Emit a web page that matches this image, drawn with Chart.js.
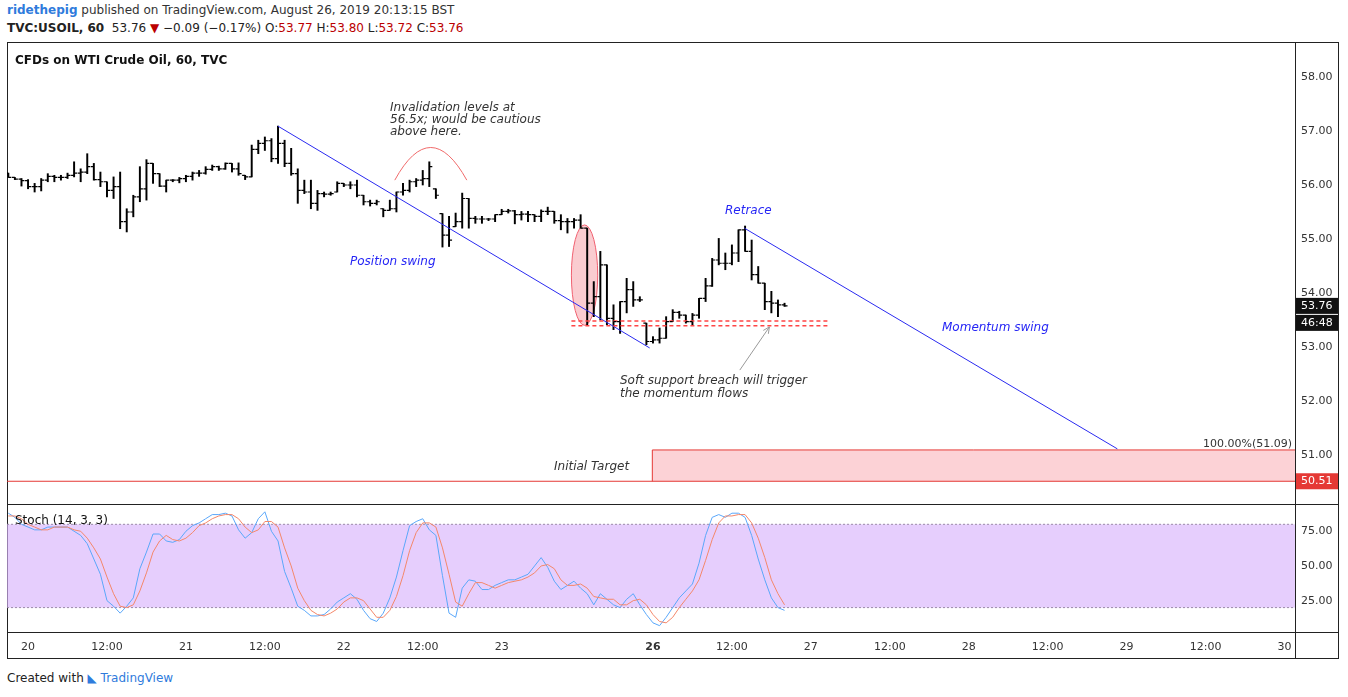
<!DOCTYPE html>
<html lang="en">
<head>
<meta charset="UTF-8">
<title>USOIL 60</title>
<style>
  body { margin: 0; background: #fff; font-family: 'DejaVu Sans', sans-serif; width: 1348px; height: 697px; overflow: hidden; position: relative; }
  #hdr1 { position: absolute; left: 7px; top: 3px; font-size: 12px; color: #333; }
  #hdr1 b { color: #2f7bdc; }
  #hdr2 { position: absolute; left: 7px; top: 21px; font-size: 12px; color: #222; }
  #hdr2 .r { color: #b00; }
  #frame { position: absolute; left: 7px; top: 42px; width: 1332px; height: 617px; border: 1px solid #222; box-sizing: border-box; }
  #c1 { position: absolute; left: 7px; top: 42px; }
  #c2 { position: absolute; left: 7px; top: 505px; }
  #foot { position: absolute; left: 7px; top: 671px; font-size: 12px; color: #222; }
  #foot span { color: #2f7bdc; }
</style>
<script src="https://cdn.jsdelivr.net/npm/chart.js@4.4.0/dist/chart.umd.min.js"></script>
</head>
<body>
<div id="hdr1"><b>ridethepig</b> published on TradingView.com, August 26, 2019 20:13:15 BST</div>
<div id="hdr2"><b>TVC:USOIL, 60</b>&nbsp; 53.76 <span class="r">▼</span> −0.09 (−0.17%) O:<span class="r">53.77</span> H:<span class="r">53.80</span> L:<span class="r">53.72</span> C:<span class="r">53.76</span></div>
<div id="frame"></div>
<canvas id="c1" width="1332" height="463"></canvas>
<canvas id="c2" width="1332" height="154"></canvas>
<div id="foot">Created with <span>◣ TradingView</span></div>

<script>
// hourly bars, first bar is index -3 (Aug 20 is 0, one day = 24 bars)
var firstIdx = -3;
var highs = [56.22,56.14,56.12,56.10,56.03,56.12,56.21,56.18,56.18,56.22,
  56.43,56.30,56.58,56.40,56.24,56.06,56.15,56.24,55.56,55.81,
  56.34,56.47,56.40,56.21,56.09,56.10,56.14,56.18,56.24,56.27,
  56.34,56.37,56.35,56.41,56.40,56.41,56.18,56.74,56.83,56.89,
  56.86,57.09,56.83,56.68,56.30,56.09,56.09,55.90,55.87,55.87,
  56.06,56.03,56.06,56.09,55.81,55.72,55.72,55.56,55.72,55.87,
  56.03,56.09,56.12,56.27,56.43,55.93,55.47,
  55.42,55.48,55.85,55.75,55.42,55.42,55.38,55.45,55.55,55.55,55.53,55.51,55.51,55.45,55.54,55.59,55.51,55.45,55.38,55.38,55.45,55.20,54.21,54.77,54.52,
  53.78,53.84,54.27,54.21,53.93,
  53.44,53.19,53.35,53.56,53.69,53.66,53.59,53.62,53.90,54.27,54.64,55.01,54.74,54.89,55.17,55.24,54.98,54.49,54.18,54.03,53.87,53.81];
var lows = [56.14,56.10,55.98,55.93,55.87,55.89,56.06,56.06,56.09,56.12,
  56.15,56.06,56.21,56.09,55.97,55.78,55.75,55.19,55.13,55.41,
  55.69,55.72,56.03,55.97,55.87,56.06,56.04,56.06,56.09,56.16,
  56.20,56.27,56.27,56.29,56.24,56.18,56.10,56.15,56.58,56.64,
  56.43,56.40,56.34,56.18,55.66,55.84,55.56,55.53,55.78,55.81,
  55.87,55.97,55.93,55.78,55.63,55.61,55.63,55.41,55.53,55.50,
  55.81,55.87,55.97,56.00,55.97,55.75,54.85,
  54.86,55.23,55.20,55.20,55.29,55.29,55.34,55.32,55.45,55.48,55.28,55.35,55.32,55.32,55.32,55.45,55.29,55.17,55.11,55.20,55.20,53.41,53.56,53.50,53.41,
  53.32,53.25,53.63,53.75,53.84,
  53.04,53.07,53.07,53.16,53.47,53.53,53.44,53.41,53.53,53.84,54.12,54.52,54.43,54.52,54.58,54.77,54.24,54.18,53.69,53.63,53.56,53.75];
var closes = [56.14,56.11,56.08,55.97,55.97,56.09,56.16,56.14,56.14,56.18,
  56.22,56.24,56.34,56.10,56.06,55.90,55.97,55.32,55.50,55.78,
  55.93,56.40,56.21,55.98,56.09,56.09,56.12,56.16,56.22,56.22,
  56.29,56.34,56.30,56.40,56.30,56.21,56.15,56.66,56.77,56.82,
  56.49,56.77,56.40,56.21,55.90,55.87,55.66,55.84,55.83,55.84,
  56.03,56.00,56.00,55.81,55.69,55.66,55.69,55.53,55.56,55.87,
  55.90,56.06,56.09,56.12,56.34,55.81,55.07,
  54.98,55.32,55.75,55.38,55.37,55.37,55.37,55.45,55.51,55.52,55.45,55.46,55.45,55.42,55.51,55.51,55.34,55.32,55.32,55.35,55.20,53.81,53.93,54.52,53.53,
  53.47,53.84,54.06,53.87,53.87,
  53.10,53.13,53.16,53.47,53.64,53.59,53.47,53.59,53.90,54.13,54.61,54.55,54.55,54.74,55.17,54.77,54.34,54.18,53.84,53.81,53.78,53.76];

var stochK = [88,85,80,78,76,76,78,78,78,78,75,72,66,55,44,25,21,16,21,27,
  48,60,73,73,68,67,69,75,79,81,84,87,87,88,86,76,70,74,84,89,
  75,68,46,34,21,18,14,14,15,19,24,27,30,26,18,12,10,16,27,42,
  61,79,82,84,76,72,43,16,13,34,40,39,33,33,36,38,40,40,42,44,
  50,56,49,39,33,36,39,34,30,22,30,26,22,20,26,30,22,15,9,7,
  13,20,27,32,37,52,72,85,87,85,88,88,85,72,55,40,27,20,18];
var stochD = [86,86,84,80,78,76,76,78,78,78,76,75,70,63,55,42,30,21,20,22,
  32,45,60,68,72,69,68,70,74,79,81,84,86,87,87,84,78,74,76,82,
  82,78,63,50,34,25,18,15,14,16,19,24,27,27,25,19,13,13,18,28,
  43,61,74,81,81,78,63,44,24,21,30,38,38,36,34,36,38,39,40,42,
  45,50,51,48,40,36,36,37,34,28,27,26,26,22,22,25,26,22,15,10,
  9,13,20,26,32,40,54,69,81,86,86,87,87,81,70,56,40,30,22];

var priceTicks = [51, 52, 53, 54, 55, 56, 57, 58];
var stochTicks = [25, 50, 75];
var timeTicks = [0, 12, 24, 36, 48, 60, 72, 95, 107, 119, 131, 143, 155, 167, 179, 191];
var timeLabels = ['20','12:00','21','12:00','22','12:00','23','26','12:00','27','12:00','28','12:00','29','12:00','30'];

var lastPrice = 53.76, targetTop = 51.09, targetBottom = 50.51;

var FONT = "'DejaVu Sans', sans-serif";
var AXW = 44; // right axis width
var X_MIN = -3.2, X_MAX = 192.6;

var ranges = highs.map(function (h, k) { return { x: firstIdx + k, y: [lows[k], h] }; });

function fixTicks(vals) {
  return function (s) { s.ticks = vals.map(function (v) { return { value: v }; }); };
}

var ohlcTicks = {
  id: 'ohlcTicks',
  afterDatasetsDraw: function (chart) {
    var c = chart.ctx, xs = chart.scales.x, ys = chart.scales.y;
    c.save();
    c.strokeStyle = '#000';
    c.lineWidth = 1.2;
    closes.forEach(function (cl, k) {
      var op = k === 0 ? highs[0] : closes[k - 1];
      op = Math.min(Math.max(op, lows[k]), highs[k]);
      var x = xs.getPixelForValue(firstIdx + k);
      c.beginPath();
      c.moveTo(x - 3, ys.getPixelForValue(op)); c.lineTo(x, ys.getPixelForValue(op));
      c.moveTo(x, ys.getPixelForValue(cl)); c.lineTo(x + 3, ys.getPixelForValue(cl));
      c.stroke();
    });
    c.restore();
  }
};

function txt(c, s, x, y, font, color, align) {
  c.font = font; c.fillStyle = color; c.textAlign = align || 'left'; c.textBaseline = 'middle';
  c.fillText(s, x, y);
}

var drawings = {
  id: 'drawings',
  beforeDatasetsDraw: function (chart) {
    var c = chart.ctx, xs = chart.scales.x, ys = chart.scales.y, a = chart.chartArea;
    var X = function (v) { return xs.getPixelForValue(v); }, Y = function (v) { return ys.getPixelForValue(v); };
    c.save();
    // target zone
    c.fillStyle = 'rgba(252, 205, 210, 0.9)';
    c.fillRect(X(94.9), Y(targetTop), a.right - X(94.9), Y(targetBottom) - Y(targetTop));
    c.strokeStyle = '#e53935'; c.lineWidth = 1;
    c.beginPath();
    c.moveTo(X(94.9), Y(targetBottom)); c.lineTo(X(94.9), Y(targetTop)); c.lineTo(a.right, Y(targetTop));
    c.moveTo(a.left, Y(targetBottom)); c.lineTo(a.right, Y(targetBottom));
    c.stroke();
    // ellipse
    c.fillStyle = 'rgba(244, 143, 150, 0.45)'; c.strokeStyle = '#f06070';
    c.beginPath();
    c.ellipse(X(84.6), Y(54.33), X(86.6) - X(84.6), Y(53.40) - Y(54.33), 0, 0, Math.PI * 2);
    c.fill(); c.stroke();
    c.restore();
  },
  afterDatasetsDraw: function (chart) {
    var c = chart.ctx, xs = chart.scales.x, ys = chart.scales.y, a = chart.chartArea;
    var X = function (v) { return xs.getPixelForValue(v); }, Y = function (v) { return ys.getPixelForValue(v); };
    c.save();
    // trend lines
    c.strokeStyle = '#2a2af0'; c.lineWidth = 1;
    c.beginPath();
    c.moveTo(X(38), Y(57.09)); c.lineTo(X(94.5), Y(52.98));
    c.moveTo(X(108.9), Y(55.20)); c.lineTo(X(165.6), Y(51.11));
    c.stroke();
    // arc
    c.strokeStyle = '#f06a6a';
    c.beginPath();
    c.moveTo(X(55.75), Y(56.09)); c.quadraticCurveTo(X(61.2), Y(57.30), X(66.7), Y(56.09));
    c.stroke();
    // dashed support
    c.strokeStyle = '#f44'; c.lineWidth = 1.5; c.setLineDash([4, 3]);
    c.beginPath();
    c.moveTo(X(82.6), Y(53.48)); c.lineTo(X(121.8), Y(53.48));
    c.moveTo(X(82.6), Y(53.39)); c.lineTo(X(121.8), Y(53.39));
    c.stroke();
    c.setLineDash([]);
    // arrow
    c.strokeStyle = '#999'; c.lineWidth = 1;
    var x0 = X(108.2), y0 = Y(52.57), x1 = X(112.7), y1 = Y(53.37);
    var ang = Math.atan2(y1 - y0, x1 - x0);
    c.beginPath();
    c.moveTo(x0, y0); c.lineTo(x1, y1);
    c.moveTo(x1 - 7 * Math.cos(ang - 0.45), y1 - 7 * Math.sin(ang - 0.45)); c.lineTo(x1, y1);
    c.lineTo(x1 - 7 * Math.cos(ang + 0.45), y1 - 7 * Math.sin(ang + 0.45));
    c.stroke();

    var it = 'italic 12px ' + FONT, blue = '#2626f5', dark = '#333';
    txt(c, 'CFDs on WTI Crude Oil, 60, TVC', 8, 19, 'bold 12px ' + FONT, '#111');
    txt(c, 'Invalidation levels at', 383, 66, it, dark);
    txt(c, '56.5x; would be cautious', 383, 78, it, dark);
    txt(c, 'above here.', 383, 90, it, dark);
    txt(c, 'Position swing', 343, 220, it, blue);
    txt(c, 'Retrace', 718, 169, it, blue);
    txt(c, 'Momentum swing', 935, 286, it, blue);
    txt(c, 'Soft support breach will trigger', 613, 339, it, dark);
    txt(c, 'the momentum flows', 613, 352, it, dark);
    txt(c, 'Initial Target', 547, 425, it, dark);
    txt(c, '100.00%(' + targetTop.toFixed(2) + ')', a.right - 3, Y(targetTop) - 6, '11px ' + FONT, dark, 'right');

    // right axis boxes
    var bx = a.right + 1;
    function box(label, y, bg) {
      c.fillStyle = bg; c.fillRect(bx, y - 8, AXW - 2, 16);
      txt(c, label, bx + 5, y, '11px ' + FONT, '#fff');
    }
    box(lastPrice.toFixed(2), Y(lastPrice), '#111');
    box('46:48', Y(lastPrice) + 17, '#111');
    box(targetBottom.toFixed(2), Y(targetBottom), '#e53935');
    c.restore();
  }
};

var borders = {
  id: 'borders',
  afterDraw: function (chart) {
    var c = chart.ctx, a = chart.chartArea;
    c.save(); c.strokeStyle = '#222'; c.lineWidth = 1;
    c.beginPath();
    c.moveTo(a.right + 0.5, 0); c.lineTo(a.right + 0.5, chart.height);
    c.moveTo(0, a.bottom - 0.5); c.lineTo(chart.width, a.bottom - 0.5);
    c.stroke(); c.restore();
  }
};

var axisY = function (min, max, ticks) {
  return {
    position: 'right', min: min, max: max,
    afterBuildTicks: fixTicks(ticks),
    afterFit: function (s) { s.width = AXW; s.paddingTop = 0; s.paddingBottom = 0; },
    grid: { display: false, drawTicks: true, tickLength: 4, color: '#222' },
    border: { display: false },
    ticks: { color: '#333', font: { size: 11, family: FONT }, padding: 2, callback: function (v) { return v.toFixed(2); } }
  };
};

new Chart(document.getElementById('c1'), {
  type: 'bar',
  data: { datasets: [{ data: ranges, backgroundColor: '#000', barThickness: 1.3, grouped: false }] },
  options: {
    responsive: false, animation: false,
    layout: { padding: 0 },
    plugins: { legend: { display: false }, tooltip: { enabled: false } },
    scales: {
      x: { type: 'linear', min: X_MIN, max: X_MAX, offset: false, display: false },
      y: axisY(50.07, 58.65, priceTicks)
    }
  },
  plugins: [drawings, ohlcTicks, borders]
});

var idxs = stochK.map(function (v, k) { return firstIdx + k; });

var stochDraw = {
  id: 'stochDraw',
  beforeDatasetsDraw: function (chart) {
    var c = chart.ctx, ys = chart.scales.y, a = chart.chartArea;
    c.save();
    c.fillStyle = 'rgba(216, 180, 252, 0.65)';
    c.fillRect(a.left, ys.getPixelForValue(80), a.right - a.left, ys.getPixelForValue(20) - ys.getPixelForValue(80));
    c.strokeStyle = '#9a8aa8'; c.setLineDash([2, 2]); c.lineWidth = 1;
    c.beginPath();
    [80, 20].forEach(function (v) { c.moveTo(a.left, ys.getPixelForValue(v)); c.lineTo(a.right, ys.getPixelForValue(v)); });
    c.stroke();
    c.restore();
  },
  afterDatasetsDraw: function (chart) {
    txt(chart.ctx, 'Stoch (14, 3, 3)', 8, 16, '12px ' + FONT, '#111');
  }
};

var xAxis2 = {
  type: 'linear', min: X_MIN, max: X_MAX, offset: false,
  afterBuildTicks: fixTicks(timeTicks),
  afterFit: function (s) { s.height = 26; s.paddingLeft = 0; s.paddingRight = 0; },
  grid: { display: false, drawTicks: true, tickLength: 4, color: '#222' },
  border: { display: false },
  ticks: {
    color: '#333', maxRotation: 0, autoSkip: false, padding: 4,
    font: function (ctx) { return { size: 11, family: FONT, weight: ctx.tick && ctx.tick.value === 95 ? 'bold' : 'normal' }; },
    callback: function (v) { return timeLabels[timeTicks.indexOf(v)]; }
  }
};

new Chart(document.getElementById('c2'), {
  type: 'line',
  data: {
    labels: idxs,
    datasets: [
      { data: stochD.map(function (v, k) { return { x: idxs[k], y: v }; }), borderColor: '#f4876a', borderWidth: 1, pointRadius: 0, tension: 0 },
      { data: stochK.map(function (v, k) { return { x: idxs[k], y: v }; }), borderColor: '#5aa7fa', borderWidth: 1, pointRadius: 0, tension: 0 }
    ]
  },
  options: {
    responsive: false, animation: false,
    layout: { padding: 0 },
    plugins: { legend: { display: false }, tooltip: { enabled: false } },
    scales: { x: xAxis2, y: axisY(1.7, 93.9, stochTicks) }
  },
  plugins: [stochDraw, borders]
});
</script>
</body>
</html>
